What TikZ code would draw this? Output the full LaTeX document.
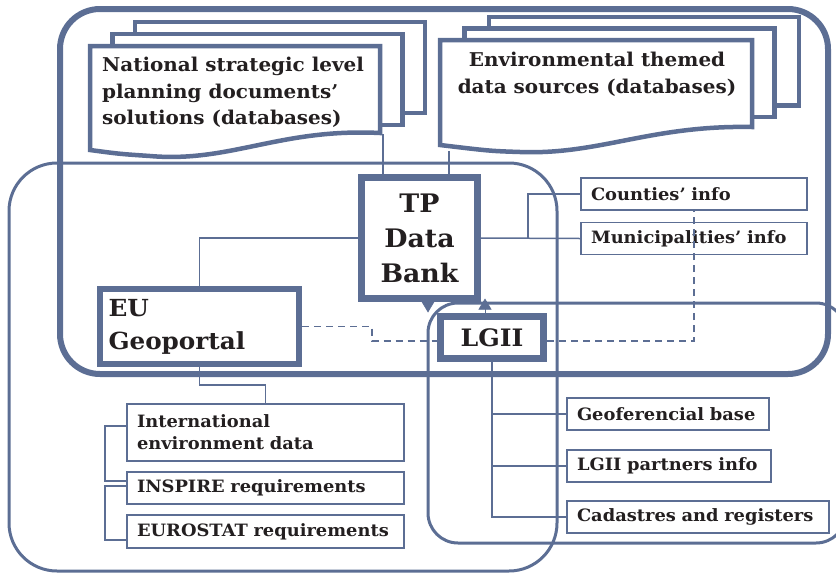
\documentclass[tikz,border=0pt]{standalone}
\usepackage{fontspec}
\setmainfont{DejaVu Serif}[FakeStretch=1.05]
\usetikzlibrary{arrows.meta}

\definecolor{slate}{RGB}{92,110,148}
\definecolor{ink}{RGB}{35,31,32}

\begin{document}
\begin{tikzpicture}[x=1pt,y=-1pt,
		groupframe/.style={draw=slate,rounded corners=#1},
		sheet/.style={draw=slate,line width=4.5pt,fill=white},
		doctext/.style={inner sep=0pt,text=ink,font=\bfseries\fontsize{19}{26.5}\selectfont},
		bigbox/.style={draw=slate,line width=7pt,fill=white,text=ink,align=center,font=\bfseries\fontsize{25.5}{35}\selectfont},
		infobox/.style={draw=slate,line width=1.8pt,fill=white,text=ink,align=left,inner xsep=10pt,minimum height=32pt,font=\bfseries\fontsize{17}{22}\selectfont},
		link/.style={draw=slate,line width=1.5pt},
		dashlink/.style={link,dash pattern=on 7pt off 5pt},
		hiddenlink/.style={draw=slate,line width=0.5pt,-{Triangle[width=13pt,length=11pt]}}
	]
			\def\natdx{22.5}
			\def\natdy{12}
			\def\envdx{24.5}
			\def\envdy{11.5}

			\useasboundingbox (0,0) rectangle (836,574);

			% Group frames
			\draw[groupframe=40pt,line width=6pt] (60,9) rectangle (828,374);
			\draw[groupframe=48pt,line width=3pt] (9,163) rectangle (557,571);
			\draw[groupframe=30pt,line width=3pt] (428,303) rectangle (846,543);

			% Document stacks (back sheets first)
			\foreach \k in {2,1} {
					\draw[sheet] ({90+\natdx*\k},{46-\natdy*\k}) rectangle ++(290,91);
					\draw[sheet] ({440+\envdx*\k},{40-\envdy*\k}) rectangle ++(310,88.5);
				}
			\draw[sheet] (90,46) -- (380,46) -- (380,133)
				.. controls (280,128) and (230,163) .. (150,156)
				.. controls (120,154) .. (90,150) -- cycle;
			\draw[sheet] (440,40) -- (752,40) -- (752,127)
				.. controls (650,125) and (600,155) .. (520,152)
				.. controls (490,151) .. (440,145) -- cycle;
			\coordinate (natfoot) at (383,134);
			\coordinate (envfoot) at (449,151);

			\node[doctext,anchor=north west,align=left] (natdoc) at (102,57)
				{National strategic level\\planning documents’\\solutions (databases)};
			\node[doctext,anchor=north,align=center] (envdoc) at (597,52)
				{Environmental themed\\data sources (databases)};

			% Arrow heads between the bank and LGII
			\path (419.5,238) coordinate (tpc) (492,337.5) coordinate (lgiic);
			\draw[hiddenlink] ([shift={(8.5,60.5)}]tpc) -- ++(0,14);
			\draw[hiddenlink] ([shift={(-7,-21)}]lgiic) -- ++(0,-18);

			% Main boxes
			\node[bigbox,minimum width=116pt,minimum height=121pt] (tp) at (tpc) {TP\\Data\\Bank};
			\node[bigbox,minimum width=103pt,minimum height=42pt,font=\bfseries\fontsize{24}{30}\selectfont] (lgii) at (lgiic) {LGII};
			\node[bigbox,line width=6pt,text width=182pt,inner xsep=8.5pt,minimum height=75pt,align=left,font=\bfseries\fontsize{23.5}{33}\selectfont] (eu) at (199.5,326.5) {EU\\Geoportal};

			% Info boxes
			\node[infobox,text width=206pt] (counties) at (694,194) {Counties’ info};
			\node[infobox,text width=206pt] (munis) at (694,238.5) {Municipalities’ info};
			\node[infobox,text width=182pt] (geobase) at (668,414) {Geoferencial base};
			\node[infobox,text width=184pt] (partners) at (669,466) {LGII partners info};
			\node[infobox,text width=242pt] (cadastres) at (698,517) {Cadastres and registers};
			\node[infobox,text width=257pt,minimum height=57pt] (intl) at (265.5,432.5) {International\\environment data};
			\node[infobox,text width=257pt] (inspire) at (265.5,488) {INSPIRE requirements};
			\node[infobox,text width=257pt,minimum height=33pt] (eurostat) at (265.5,531.5) {EUROSTAT requirements};

			% Links
			\draw[link] (natfoot) -- (natfoot |- tp.north);
			\draw[link] (envfoot) -- (envfoot |- tp.north);
			\draw[link] (tp.west) -| (eu.north);
			\draw[link] (tp.east) -- (munis.west);
			\draw[link] (counties.west) -- ++(-52,0) |- (munis.west);
			\draw[link] (eu.south) -- ++(0,18) -| (intl.north);
			\draw[link] ([yshift=6.5pt]intl.west) -- ++(-21,0) |- ([yshift=7pt]inspire.west);
			\draw[link] ([yshift=2pt]inspire.west) -- ++(-21,0) |- ([yshift=-8.5pt]eurostat.west);
			\foreach \t in {geobase,partners,cadastres}
				\draw[link] (lgii.south) |- (\t.west);

			% Dashed links
			\draw[dashlink] (eu.east) -- ++(70,0) |- ([yshift=-3.5pt]lgii.west);
			\draw[dashlink] ([yshift=-3.5pt]lgii.east) -| (counties.south);

		\end{tikzpicture}
\end{document}
